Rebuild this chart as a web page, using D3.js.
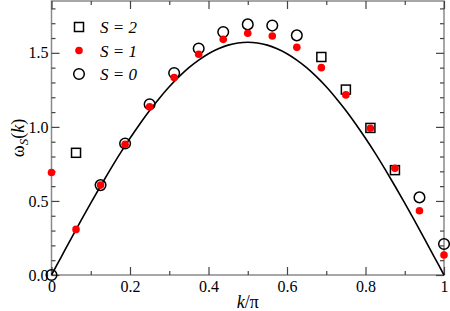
<!DOCTYPE html>
<html>
<head>
<meta charset="utf-8">
<script src="https://cdn.jsdelivr.net/npm/d3@7/dist/d3.min.js"></script>
<style>
  body { margin: 0; background: #fff; }
  svg text { font-family: "Liberation Serif", "Times New Roman", Times, "DejaVu Serif", serif; }
</style>
</head>
<body>
<div id="chart"></div>
<script>
// k/pi values of the points
let kS2 = [0.0625, 0.6875, 0.75, 0.8125, 0.875];
let wS2 = [0.825, 1.472, 1.252, 0.993, 0.708];

let kS1 = [0, 0.0625, 0.125, 0.1875, 0.25, 0.3125, 0.375, 0.4375, 0.5, 0.5625, 0.625, 0.6875, 0.75, 0.8125, 0.875, 0.9375, 1];
let wS1 = [0.692, 0.308, 0.607, 0.882, 1.135, 1.333, 1.49, 1.591, 1.632, 1.614, 1.537, 1.40, 1.216, 0.991, 0.72, 0.434, 0.135];

let kS0 = [0, 0.125, 0.1875, 0.25, 0.3125, 0.375, 0.4375, 0.5, 0.5625, 0.625, 0.9375, 1];
let wS0 = [0.0, 0.607, 0.888, 1.153, 1.364, 1.529, 1.641, 1.692, 1.684, 1.618, 0.524, 0.209];

// solid line
let kLine = [0, 0.025, 0.05, 0.075, 0.1, 0.125, 0.15, 0.175, 0.2, 0.225, 0.25, 0.275, 0.3, 0.325, 0.35, 0.375, 0.4, 0.425, 0.45, 0.475, 0.5,
             0.525, 0.55, 0.575, 0.6, 0.625, 0.65, 0.675, 0.7, 0.725, 0.75, 0.775, 0.8, 0.825, 0.85, 0.875, 0.9, 0.925, 0.95, 0.975, 1];
let wLine = [0, 0.123, 0.246, 0.367, 0.485, 0.601, 0.713, 0.821, 0.923, 1.020, 1.111, 1.194, 1.271, 1.339, 1.400, 1.451, 1.494, 1.527, 1.552, 1.566, 1.571,
             1.566, 1.552, 1.527, 1.494, 1.451, 1.400, 1.339, 1.271, 1.194, 1.111, 1.020, 0.923, 0.821, 0.713, 0.601, 0.485, 0.367, 0.246, 0.123, 0];

let xMajor = [0, 0.2, 0.4, 0.6, 0.8, 1];
let xMinor = [0.1, 0.3, 0.5, 0.7, 0.9];
let yMajor = [0, 0.5, 1.0, 1.5];
let yMinor = [0.1, 0.2, 0.3, 0.4, 0.6, 0.7, 0.8, 0.9, 1.1, 1.2, 1.3, 1.4, 1.6, 1.7, 1.8];

let serif = "'Liberation Serif', 'Times New Roman', Times, 'DejaVu Serif', serif";

let svgWidth = 450, svgHeight = 311;
let margin = {top: 1, right: 6, bottom: 36, left: 51.5};
let width = svgWidth - margin.left - margin.right;
let height = svgHeight - margin.top - margin.bottom;

let svg = d3.select("#chart").append("svg")
  .attr("width", svgWidth)
  .attr("height", svgHeight)
  .style("font-family", serif);

let g = svg.append("g")
  .attr("transform", `translate(${margin.left},${margin.top})`);

let x = d3.scaleLinear().domain([0, 1]).range([0, width]);
let y = d3.scaleLinear().domain([0, 1.85]).range([height, 0]);

// frame
g.append("rect")
  .attr("width", width).attr("height", height)
  .attr("fill", "none").attr("stroke", "#8a8a8a").attr("stroke-width", 1.5);

function styleAxis(sel) {
  sel.attr("font-family", null);
  sel.select(".domain").remove();
  sel.selectAll(".tick line").attr("stroke", "#444").attr("stroke-width", 1.2);
  sel.selectAll("text").attr("font-size", 16).attr("fill", "#000")
    .style("font-family", serif);
}

// bottom
g.append("g").attr("transform", `translate(0,${height})`)
  .call(d3.axisBottom(x).tickValues(xMajor).tickSize(-8).tickPadding(6)
    .tickFormat(d => d === 0 ? "0" : d === 1 ? "1" : d3.format(".1f")(d)))
  .call(styleAxis);
g.append("g").attr("transform", `translate(0,${height})`)
  .call(d3.axisBottom(x).tickValues(xMinor).tickSize(-4).tickFormat(""))
  .call(styleAxis);
// top
g.append("g")
  .call(d3.axisTop(x).tickValues(xMajor).tickSize(-8).tickFormat(""))
  .call(styleAxis);
g.append("g")
  .call(d3.axisTop(x).tickValues(xMinor).tickSize(-4).tickFormat(""))
  .call(styleAxis);
// left
g.append("g")
  .call(d3.axisLeft(y).tickValues(yMajor).tickSize(-8).tickPadding(3).tickFormat(d3.format(".1f")))
  .call(styleAxis);
g.append("g")
  .call(d3.axisLeft(y).tickValues(yMinor).tickSize(-4).tickFormat(""))
  .call(styleAxis);
// right
g.append("g").attr("transform", `translate(${width},0)`)
  .call(d3.axisRight(y).tickValues(yMajor).tickSize(-8).tickFormat(""))
  .call(styleAxis);
g.append("g").attr("transform", `translate(${width},0)`)
  .call(d3.axisRight(y).tickValues(yMinor).tickSize(-4).tickFormat(""))
  .call(styleAxis);

// curve
let lineData = kLine.map((k, i) => ({k: k, w: wLine[i]}));
g.append("path")
  .datum(lineData)
  .attr("fill", "none")
  .attr("stroke", "#000")
  .attr("stroke-width", 1.6)
  .attr("d", d3.line().x(d => x(d.k)).y(d => y(d.w)).curve(d3.curveCatmullRom));

// S=2 squares
let sq = 9;
g.append("g").selectAll("rect")
  .data(kS2.map((k, i) => ({k: k, w: wS2[i]})))
  .enter().append("rect")
  .attr("x", d => x(d.k) - sq / 2)
  .attr("y", d => y(d.w) - sq / 2)
  .attr("width", sq).attr("height", sq)
  .attr("fill", "none").attr("stroke", "#000").attr("stroke-width", 1.5);

// S=0 open circles
g.append("g").selectAll("circle")
  .data(kS0.map((k, i) => ({k: k, w: wS0[i]})))
  .enter().append("circle")
  .attr("cx", d => x(d.k)).attr("cy", d => y(d.w))
  .attr("r", 5.3)
  .attr("fill", "none").attr("stroke", "#000").attr("stroke-width", 1.5);

// S=1 red dots
g.append("g").selectAll("circle")
  .data(kS1.map((k, i) => ({k: k, w: wS1[i]})))
  .enter().append("circle")
  .attr("cx", d => x(d.k)).attr("cy", d => y(d.w))
  .attr("r", 3.8)
  .attr("fill", "#ff0000");

// legend
let legend = svg.append("g");
let legendItems = ["2", "1", "0"];
legendItems.forEach(function(s, i) {
  let ly = 27 + i * 23.5;
  if (s === "2") {
    legend.append("rect").attr("x", 79 - sq / 2).attr("y", ly - sq / 2)
      .attr("width", sq).attr("height", sq)
      .attr("fill", "none").attr("stroke", "#000").attr("stroke-width", 1.5);
  } else if (s === "1") {
    legend.append("circle").attr("cx", 79).attr("cy", ly).attr("r", 3.8).attr("fill", "#ff0000");
  } else {
    legend.append("circle").attr("cx", 79).attr("cy", ly).attr("r", 5.3)
      .attr("fill", "none").attr("stroke", "#000").attr("stroke-width", 1.5);
  }
  legend.append("text")
    .attr("x", 100).attr("y", ly + 6)
    .attr("font-size", 17).attr("font-style", "italic")
    .text("S = " + s);
});

// axis titles
let xt = svg.append("text")
  .attr("x", margin.left + width / 2).attr("y", 311 - 3)
  .attr("text-anchor", "middle").attr("font-size", 18);
xt.append("tspan").attr("font-style", "italic").text("k");
xt.append("tspan").text("/π");

let yt = svg.append("text")
  .attr("transform", "translate(24,138) rotate(-90)")
  .attr("text-anchor", "middle").attr("font-size", 18);
yt.append("tspan").text("ω");
yt.append("tspan").attr("font-style", "italic").attr("font-size", 13).attr("dy", 4).text("S");
yt.append("tspan").attr("dy", -4).text("(");
yt.append("tspan").attr("font-style", "italic").text("k");
yt.append("tspan").text(")");
</script>
</body>
</html>
